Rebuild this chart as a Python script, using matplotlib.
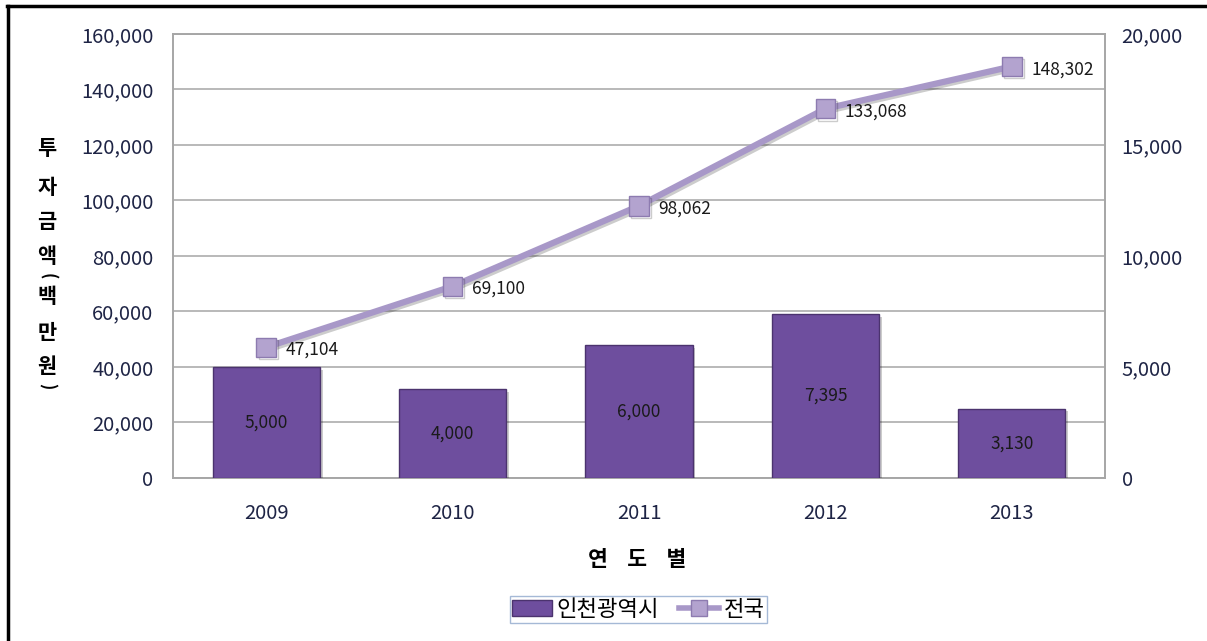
import matplotlib.pyplot as plt
import matplotlib.patheffects as pe
from matplotlib.lines import Line2D
from matplotlib.patches import Patch
import numpy as np

plt.rcParams['font.family'] = ['Noto Sans CJK KR', 'DejaVu Sans']

years = ['2009', '2010', '2011', '2012', '2013']
incheon = [5000, 4000, 6000, 7395, 3130]          # 인천광역시 (오른쪽 축)
nation = [47104, 69100, 98062, 133068, 148302]    # 전국 (왼쪽 축)

left_ticks = np.arange(0, 160001, 20000)
right_ticks = np.arange(0, 20001, 5000)

bar_color = '#6E4E9E'
bar_edge = '#4B336E'
line_color = '#A898C8'
marker_face = '#B3A3CF'
marker_edge = '#8D7BB0'
tick_color = '#1E2445'
grid_color = '#A6A6A6'

fig = plt.figure(figsize=(12.07, 6.41), dpi=100)
ax = fig.add_axes([0.1433, 0.2543, 0.7722, 0.6927])
x = np.arange(len(years))

# 왼쪽 축: 눈금과 격자
ax.set_xlim(-0.5, len(years) - 0.5)
ax.set_ylim(0, 160000)
ax.set_yticks(left_ticks)
ax.set_yticklabels([f'{v:,}' for v in left_ticks])
ax.yaxis.grid(True, color=grid_color, linewidth=1.1)
ax.set_axisbelow(True)
ax.set_xticks(x)
ax.set_xticklabels(years)
ax.tick_params(axis='both', length=0, labelsize=14.5, colors=tick_color)
ax.tick_params(axis='y', pad=14)
ax.tick_params(axis='x', pad=18)
for s in ax.spines.values():
    s.set_color(grid_color)
    s.set_linewidth(1.2)

# 오른쪽 축: 인천광역시 막대
ax_bar = ax.twinx()
ax_bar.set_ylim(0, 20000)
ax_bar.set_yticks(right_ticks)
ax_bar.set_yticklabels([f'{v:,}' for v in right_ticks])
ax_bar.tick_params(axis='y', length=0, labelsize=14.5, colors=tick_color, pad=12)
for s in ax_bar.spines.values():
    s.set_color(grid_color)
    s.set_linewidth(1.2)
bars = ax_bar.bar(x, incheon, width=0.575, color=bar_color, edgecolor=bar_edge,
                  linewidth=1.0, zorder=3)
for b in bars:
    b.set_path_effects([pe.SimplePatchShadow(offset=(2, -2), shadow_rgbFace='black',
                                             alpha=0.2), pe.Normal()])
for xi, v in zip(x, incheon):
    ax_bar.text(xi, v / 2, f'{v:,}', ha='center', va='center', fontsize=12.5,
                color='#1a1a1a', zorder=4)

# 전국 꺾은선 (왼쪽 축 기준)
ax_line = ax.twinx()
ax_line.set_ylim(ax.get_ylim())
ax_line.set_yticks([])
for s in ax_line.spines.values():
    s.set_visible(False)
ax_line.plot(x, nation, color=line_color, linewidth=4.5, solid_capstyle='butt',
             marker='s', markersize=14, markerfacecolor=marker_face,
             markeredgecolor=marker_edge, markeredgewidth=1.0, zorder=5,
             path_effects=[pe.SimpleLineShadow(offset=(1.5, -1.5), alpha=0.2), pe.Normal()])
for xi, v in zip(x, nation):
    ax_line.annotate(f'{v:,}', (xi, v), textcoords='offset points', xytext=(14, -2),
                     ha='left', va='center', fontsize=12.5, color='#1a1a1a', zorder=6)

# 세로 축 제목 (세로쓰기, 괄호는 눕혀서)
ylabel_chars = [('투', 0.769, 0), ('자', 0.708, 0), ('금', 0.654, 0), ('액', 0.600, 0),
                ('(', 0.569, -90), ('백', 0.537, 0), ('만', 0.482, 0), ('원', 0.428, 0),
                (')', 0.398, -90)]
for ch, yy, rot in ylabel_chars:
    fig.text(0.039, yy, ch, ha='center', va='center', fontsize=15 if rot == 0 else 12,
             rotation=rot, fontweight='bold', color='black')

# 가로 축 제목
fig.text(0.528, 0.127, '연    도    별', ha='center', va='center', fontsize=15.5,
         fontweight='bold', color='black')

# 범례
handles = [Patch(facecolor=bar_color, edgecolor=bar_edge),
           Line2D([], [], color=line_color, linewidth=4, marker='s', markersize=11,
                  markerfacecolor=marker_face, markeredgecolor=marker_edge)]
leg = fig.legend(handles, ['인천광역시', '전국'], loc='center',
                 bbox_to_anchor=(0.529, 0.0495), ncol=2, fontsize=16, frameon=True,
                 fancybox=False, handlelength=1.8, handletextpad=0.2,
                 columnspacing=0.9, borderpad=0.1)
leg.get_frame().set_edgecolor('#8FA8CC')
leg.get_frame().set_linewidth(1.0)

# 바깥 테두리
fig.add_artist(Line2D([0.0068, 0.0068], [0, 0.99], color='black', linewidth=2.5,
                      transform=fig.transFigure))
fig.add_artist(Line2D([0.0058, 1.0], [0.99, 0.99], color='black', linewidth=2.5,
                      transform=fig.transFigure))

fig.savefig('out.png', dpi=100)
